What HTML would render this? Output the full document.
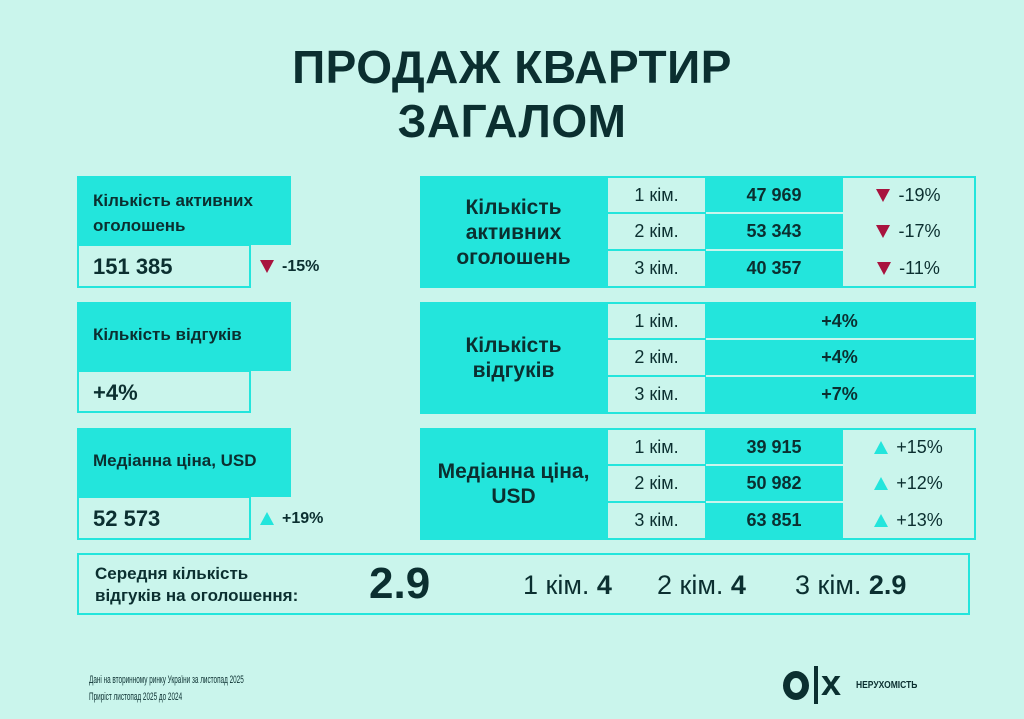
<!DOCTYPE html>
<html><head><meta charset="utf-8"><style>
*{margin:0;padding:0;box-sizing:border-box}
body{width:1024px;height:719px;background:#caf5ec;position:relative;overflow:hidden;font-family:"Liberation Sans","DejaVu Sans",sans-serif;color:#0b2f30}
.a{position:absolute}
.t{background:#23e5dc}
.l{background:#caf5ec;border:2px solid #23e5dc}
.c{display:flex;align-items:center;justify-content:center;text-align:center}
.b{font-weight:bold}
.tri{display:inline-block;width:0;height:0;border-left:7px solid transparent;border-right:7px solid transparent;margin-right:8px;vertical-align:middle}
.dn{border-top:13px solid #a8133e}
.up{border-bottom:13px solid #23e5dc}
.cell{position:absolute;display:flex;align-items:center;justify-content:center;font-size:18px}
</style></head><body>
<div class="a b" style="left:0;width:1024px;top:40px;text-align:center;font-size:46px;line-height:54px;letter-spacing:0.5px">ПРОДАЖ КВАРТИР<br>ЗАГАЛОМ</div>

<div class="a t b" style="left:77px;top:176px;width:214px;height:69px;padding:12px 0 0 16px;font-size:17px;line-height:25px">Кількість активних<br>оголошень</div>
<div class="a l b" style="left:77px;top:244px;width:174px;height:44px;padding:8px 0 0 14px;font-size:22px">151 385</div>
<div class="a b" style="left:260px;top:258px;font-size:16px"><span class="tri dn"></span>-15%</div>

<div class="a t b" style="left:77px;top:302px;width:214px;height:69px;padding:23px 0 0 16px;font-size:17px">Кількість відгуків</div>
<div class="a l b" style="left:77px;top:370px;width:174px;height:43px;padding:8px 0 0 14px;font-size:22px">+4%</div>

<div class="a t b" style="left:77px;top:428px;width:214px;height:69px;padding:23px 0 0 16px;font-size:17px">Медіанна ціна, USD</div>
<div class="a l b" style="left:77px;top:496px;width:174px;height:44px;padding:8px 0 0 14px;font-size:22px">52 573</div>
<div class="a b" style="left:260px;top:510px;font-size:16px"><span class="tri up"></span>+19%</div>

<div class="a t" style="left:420px;top:176px;width:556px;height:112px"></div>
<div class="a c b" style="left:420px;top:176px;width:187px;height:112px;font-size:21px;line-height:25px">Кількість<br>активних<br>оголошень</div>
<div class="cell" style="left:608px;top:178px;width:97px;height:34px;background:#caf5ec">1 кім.</div>
<div class="cell" style="left:608px;top:214px;width:97px;height:35px;background:#caf5ec">2 кім.</div>
<div class="cell" style="left:608px;top:251px;width:97px;height:35px;background:#caf5ec">3 кім.</div>
<div class="cell b" style="left:705px;top:178px;width:138px;height:34px">47 969</div>
<div class="cell b" style="left:705px;top:214px;width:138px;height:35px">53 343</div>
<div class="cell b" style="left:705px;top:251px;width:138px;height:35px">40 357</div>
<div class="cell" style="left:706px;top:212px;width:268px;height:2px;background:#caf5ec"></div>
<div class="cell" style="left:706px;top:249px;width:268px;height:2px;background:#caf5ec"></div>
<div class="cell" style="left:843px;top:178px;width:131px;height:34px;background:#caf5ec"><span class="tri dn"></span>-19%</div>
<div class="cell" style="left:843px;top:214px;width:131px;height:35px;background:#caf5ec"><span class="tri dn"></span>-17%</div>
<div class="cell" style="left:843px;top:251px;width:131px;height:35px;background:#caf5ec"><span class="tri dn"></span>-11%</div>

<div class="a t" style="left:420px;top:302px;width:556px;height:112px"></div>
<div class="a c b" style="left:420px;top:302px;width:187px;height:112px;font-size:21px;line-height:25px">Кількість<br>відгуків</div>
<div class="cell" style="left:608px;top:304px;width:97px;height:34px;background:#caf5ec">1 кім.</div>
<div class="cell" style="left:608px;top:340px;width:97px;height:35px;background:#caf5ec">2 кім.</div>
<div class="cell" style="left:608px;top:377px;width:97px;height:35px;background:#caf5ec">3 кім.</div>
<div class="cell b" style="left:705px;top:304px;width:269px;height:34px">+4%</div>
<div class="cell b" style="left:705px;top:340px;width:269px;height:35px">+4%</div>
<div class="cell b" style="left:705px;top:377px;width:269px;height:35px">+7%</div>
<div class="cell" style="left:706px;top:338px;width:268px;height:2px;background:#caf5ec"></div>
<div class="cell" style="left:706px;top:375px;width:268px;height:2px;background:#caf5ec"></div>

<div class="a t" style="left:420px;top:428px;width:556px;height:112px"></div>
<div class="a c b" style="left:420px;top:428px;width:187px;height:112px;font-size:21px;line-height:25px">Медіанна ціна,<br>USD</div>
<div class="cell" style="left:608px;top:430px;width:97px;height:34px;background:#caf5ec">1 кім.</div>
<div class="cell" style="left:608px;top:466px;width:97px;height:35px;background:#caf5ec">2 кім.</div>
<div class="cell" style="left:608px;top:503px;width:97px;height:35px;background:#caf5ec">3 кім.</div>
<div class="cell b" style="left:705px;top:430px;width:138px;height:34px">39 915</div>
<div class="cell b" style="left:705px;top:466px;width:138px;height:35px">50 982</div>
<div class="cell b" style="left:705px;top:503px;width:138px;height:35px">63 851</div>
<div class="cell" style="left:706px;top:464px;width:268px;height:2px;background:#caf5ec"></div>
<div class="cell" style="left:706px;top:501px;width:268px;height:2px;background:#caf5ec"></div>
<div class="cell" style="left:843px;top:430px;width:131px;height:34px;background:#caf5ec"><span class="tri up"></span>+15%</div>
<div class="cell" style="left:843px;top:466px;width:131px;height:35px;background:#caf5ec"><span class="tri up"></span>+12%</div>
<div class="cell" style="left:843px;top:503px;width:131px;height:35px;background:#caf5ec"><span class="tri up"></span>+13%</div>

<div class="a l" style="left:77px;top:553px;width:893px;height:62px"></div>
<div class="a b" style="left:95px;top:563px;font-size:17px;line-height:22px">Середня кількість<br>відгуків на оголошення:</div>
<div class="a b" style="left:369px;top:560px;font-size:44px;line-height:48px">2.9</div>
<div class="a" style="left:523px;top:569px;font-size:27px;line-height:32px">1 кім. <b>4</b></div>
<div class="a" style="left:657px;top:569px;font-size:27px;line-height:32px">2 кім. <b>4</b></div>
<div class="a" style="left:795px;top:569px;font-size:27px;line-height:32px">3 кім. <b>2.9</b></div>

<div class="a" style="left:89px;top:672px;font-size:11px;line-height:17px;transform:scaleX(0.58);transform-origin:0 0;white-space:nowrap">Дані на вторинному ринку України за листопад 2025<br>Приріст листопад 2025 до 2024</div>

<div class="a" style="left:783px;top:671px;width:26px;height:29px;border:7px solid #0b2f30;border-radius:50%"></div>
<div class="a" style="left:814px;top:666px;width:4px;height:38px;background:#0b2f30"></div>
<div class="a b" style="left:821px;top:664px;font-size:36px;line-height:38px">x</div>
<div class="a b" style="left:856px;top:680px;font-size:10px;transform:scaleX(0.85);transform-origin:0 0">НЕРУХОМІСТЬ</div>
</body></html>
